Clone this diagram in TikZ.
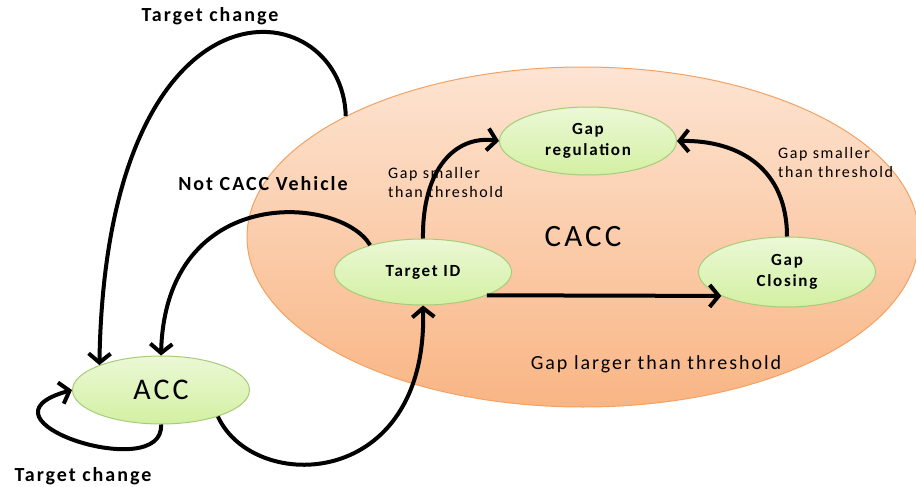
\documentclass[tikz,border=0pt]{standalone}
\usepackage{fontspec}
\setmainfont{Carlito}[LetterSpace=10]
\usetikzlibrary{shapes.geometric,arrows.meta}
\definecolor{peachtop}{HTML}{FDE4D2}
\definecolor{peachbot}{HTML}{F9B584}
\definecolor{peachline}{HTML}{F3A263}
\definecolor{leaftop}{HTML}{EBF8D6}
\definecolor{leafbot}{HTML}{D3F0A2}
\definecolor{leafline}{HTML}{A6CC7A}

\tikzset{
    state/.style={ellipse, draw=leafline, line width=1pt, top color=leaftop, bottom color=leafbot,
        inner sep=0pt, minimum width=177pt, minimum height=68pt, align=center,
        font=\fontsize{17}{21}\selectfont\bfseries},
    trans/.style={line width=4pt, -{Straight Barb[length=9pt,width=22pt]}},
    lbl/.style={inner sep=0pt, align=left}
}

\begin{document}
\begin{tikzpicture}[x=1pt,y=-1pt]
    \useasboundingbox (0,0) rectangle (916,487);

    % CACC region
    \node[ellipse, draw=peachline, line width=1pt, top color=peachtop, bottom color=peachbot,
        minimum width=672pt, minimum height=340pt, inner sep=0pt,
        font=\fontsize{31}{36}\selectfont] (cacc) at (583,237) {CACC};

    % States
    \node[state, font=\fontsize{30}{36}\selectfont] (acc) at (161,390) {ACC};
    \node[state, minimum height=66pt] (target) at (423,272) {Target ID};
    \node[state] (gapreg) at (588,141) {Gap\\regulation};
    \node[state, minimum height=70pt] (gapclose) at (787,272) {Gap\\Closing};

    % Labels
    \node[lbl, font=\fontsize{20}{24}\selectfont\bfseries] (tctop) at (210,16) {Target change};
    \node[lbl, font=\fontsize{20}{24}\selectfont\bfseries] (tcbot) at (83,476) {Target change};
    \node[lbl, font=\fontsize{20}{24}\selectfont\bfseries] (notcacc) at (263,184) {Not CACC Vehicle};
    \node[lbl, anchor=west, font=\fontsize{16}{19}\selectfont] (gsleft) at (388,183) {Gap smaller\\than threshold};
    \node[lbl, anchor=west, font=\fontsize{16}{19}\selectfont] (gsright) at (778,163) {Gap smaller\\than threshold};
    \node[lbl, font=\fontsize{20}{24}\selectfont] (glarger) at (656,364) {Gap larger than threshold};

    % Transitions
    \draw[trans] (cacc.153) .. controls +(-3,-127) and +(7,-405) .. (acc.158);
    \draw[trans] (target.153) .. controls +(-30,-50) and +(5,-173) .. (acc.north);
    \draw[trans] (acc.south) .. controls +(4,60) and +(-108,30) .. (acc.west);
    \draw[trans] (acc.-25) .. controls +(36,78) and +(5,185) .. (target.south);
    \draw[trans] (target.north) .. controls +(-1,-69) and +(-44,-6) .. (gapreg.west);
    \draw[trans] (gapclose.north) .. controls +(0,-67) and +(63,-1) .. (gapreg.east);
    \draw[trans] (target.-20) -- (gapclose.200);
\end{tikzpicture}
\end{document}
